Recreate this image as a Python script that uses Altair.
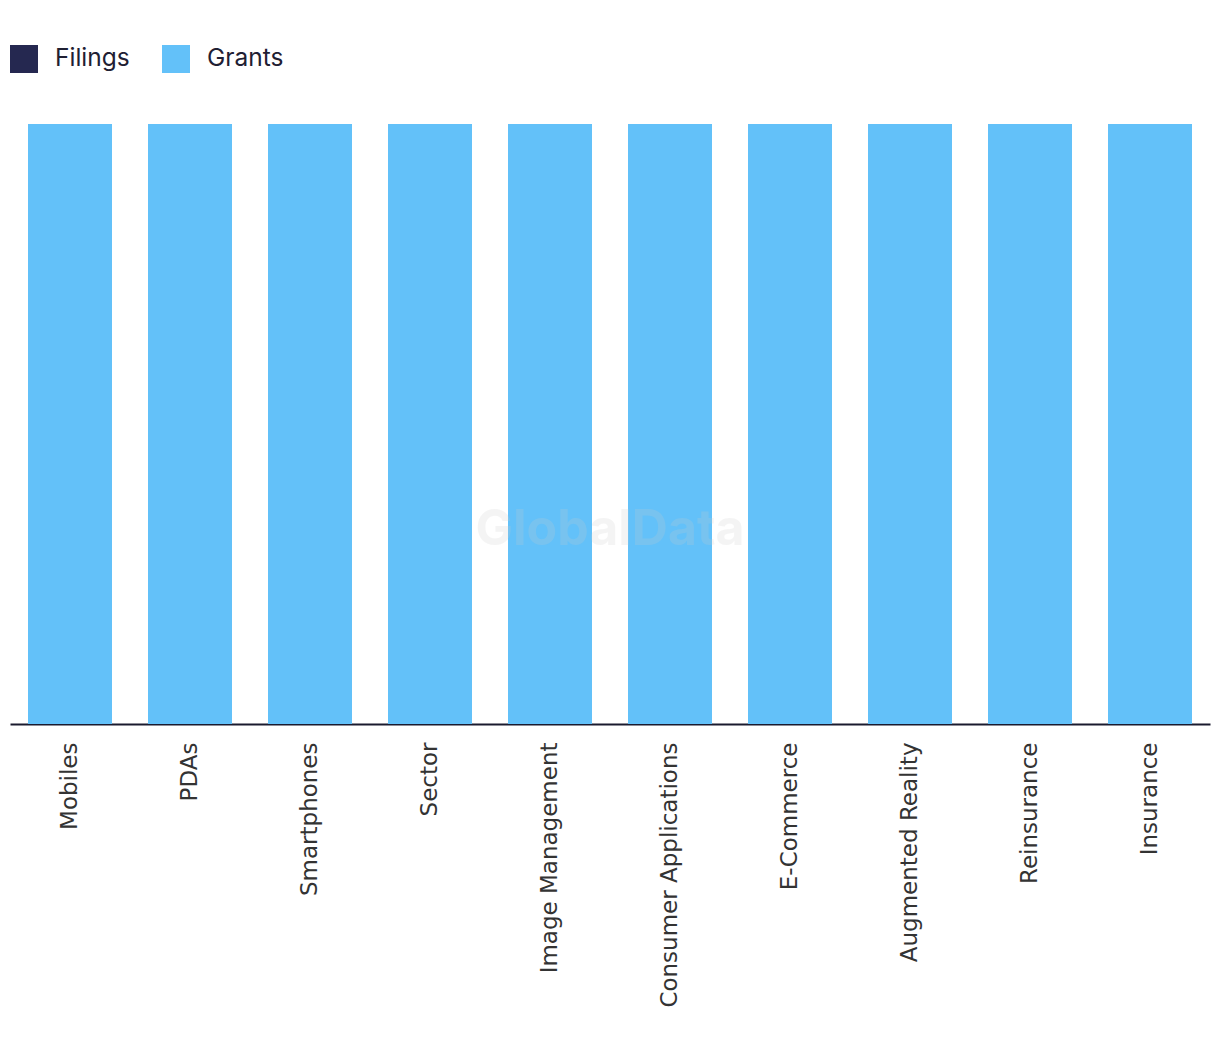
import altair as alt
import pandas as pd

categories = ["Mobiles", "PDAs", "Smartphones", "Sector", "Image Management",
              "Consumer Applications", "E-Commerce", "Augmented Reality",
              "Reinsurance", "Insurance"]
filings = [0, 0, 0, 0, 0, 0, 0, 0, 0, 0]
grants = [100, 100, 100, 100, 100, 100, 100, 100, 100, 100]
series = ["Filings", "Grants"]
colors = ["#252850", "#63c1f9"]

rows = []
for c, f, g in zip(categories, filings, grants):
    rows.append({"category": c, "series": "Filings", "value": f})
    rows.append({"category": c, "series": "Grants", "value": g})
df = pd.DataFrame(rows)

bars = alt.Chart(df).mark_bar().encode(
    x=alt.X("category:N", sort=categories, title=None,
            scale=alt.Scale(paddingInner=0.3, paddingOuter=0.15),
            axis=alt.Axis(labelAngle=-90, labelFontSize=23, labelColor="#333333",
                          labelFont="DejaVu Sans", ticks=False, labelPadding=18,
                          domainColor="#1a1a2e", domainWidth=2, labelLimit=400)),
    y=alt.Y("value:Q", stack="zero", axis=None,
            scale=alt.Scale(domain=[0, 100], nice=False)),
    color=alt.Color("series:N", sort=series,
                    scale=alt.Scale(domain=series, range=colors),
                    legend=alt.Legend(title=None, orient="none", legendX=0, legendY=-79,
                                      direction="horizontal", symbolType="square",
                                      symbolSize=784, symbolStrokeWidth=0,
                                      labelFontSize=24.5, labelFont="Inter",
                                      labelColor="#1f2033", labelOffset=17,
                                      columnPadding=32)),
    order=alt.Order("series:N", sort="descending"),
)

wm = alt.Chart(pd.DataFrame({"t": ["GlobalData"]})).mark_text(
    fontSize=50, fontWeight="bold", font="Inter", color="#cccccc", opacity=0.2
).encode(text="t:N", x=alt.value(600), y=alt.value(406))

chart = alt.layer(bars, wm).properties(
    width=1200, height=600,
    autosize=alt.AutoSizeParams(type="none"),
    padding={"left": 2, "top": 116, "right": 2, "bottom": 320},
).configure_view(stroke=None)

chart.save("out.html", embed_options={"renderer": "svg", "actions": False})
